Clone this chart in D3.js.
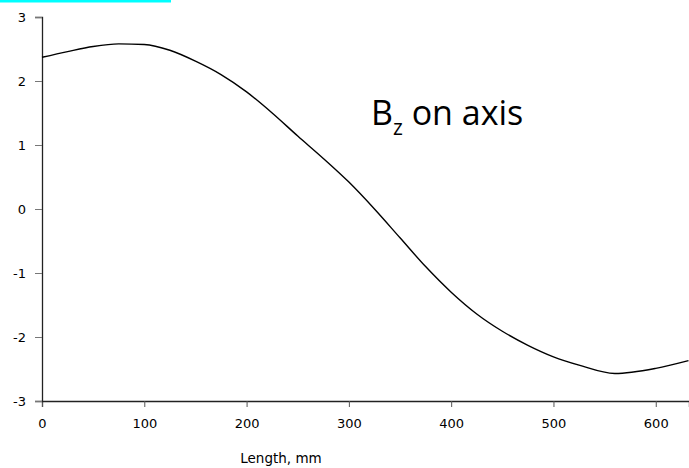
<!DOCTYPE html>
<html>
<head>
<meta charset="utf-8">
<script src="https://cdn.jsdelivr.net/npm/d3@7"></script>
<style>
  body { margin: 0; background: #fff; }
  svg { display: block; }
</style>
</head>
<body>
<div id="chart"></div>
<script>
// field along the axis
const lengthMm = [0, 25, 50, 75, 100, 125, 150, 175, 200, 225, 250, 275, 300, 325, 350, 375, 400, 425, 450, 475, 500, 525, 560, 600, 632];
const bz = [2.37, 2.46, 2.54, 2.58, 2.57, 2.48, 2.31, 2.1, 1.83, 1.5, 1.14, 0.79, 0.42, 0.0, -0.45, -0.9, -1.3, -1.64, -1.91, -2.13, -2.31, -2.44, -2.57, -2.49, -2.37];
const xTicks = [0, 100, 200, 300, 400, 500, 600];
const yTicks = [-3, -2, -1, 0, 1, 2, 3];

const width = 689, height = 468;
const margin = {left: 42, right: 0, top: 17, bottom: 67};

const svg = d3.select("#chart").append("svg")
    .attr("width", width)
    .attr("height", height);

const x = d3.scaleLinear()
    .domain([0, 632.5])
    .range([margin.left, width - margin.right]);

const y = d3.scaleLinear()
    .domain([-3, 3])
    .range([height - margin.bottom, margin.top]);

// cyan strip at the top left
svg.append("rect")
    .attr("x", 0)
    .attr("y", 0)
    .attr("width", 171)
    .attr("height", 2.5)
    .attr("fill", "#00ffff");

const fmt = d => String(d);

const xAxis = svg.append("g")
    .attr("transform", "translate(0," + y(-3) + ")")
    .call(d3.axisBottom(x).tickValues(xTicks).tickFormat(fmt).tickSize(6).tickPadding(12));

const yAxis = svg.append("g")
    .attr("transform", "translate(" + x(0) + ",0)")
    .call(d3.axisLeft(y).tickValues(yTicks).tickFormat(fmt).tickSize(7).tickPadding(9));

[xAxis, yAxis].forEach(g => {
    g.select(".domain").attr("stroke", "#222").attr("stroke-width", 1.3);
    g.selectAll(".tick line").attr("stroke", "#555");
    g.selectAll(".tick text")
        .attr("fill", "#000")
        .style("font-family", "DejaVu Sans, Verdana, sans-serif")
        .style("font-size", "13px");
});
yAxis.selectAll(".tick line").attr("stroke", "#777");

const line = d3.line()
    .x(d => x(d[0]))
    .y(d => y(d[1]))
    .curve(d3.curveMonotoneX);

svg.append("path")
    .datum(d3.zip(lengthMm, bz))
    .attr("d", line)
    .attr("fill", "none")
    .attr("stroke", "#000")
    .attr("stroke-width", 1.4);

svg.append("text")
    .attr("x", 281)
    .attr("y", 463)
    .attr("text-anchor", "middle")
    .style("font-family", "DejaVu Sans, Verdana, sans-serif")
    .style("font-size", "13.5px")
    .text("Length, mm");

// title inside the plot
const title = svg.append("text")
    .attr("x", 371)
    .attr("y", 125)
    .style("font-family", "Open Sans, Noto Sans, sans-serif")
    .style("font-size", "34px")
    .attr("fill", "#000");
title.append("tspan").text("B");
title.append("tspan").attr("dy", 10).style("font-size", "21px").text("z");
title.append("tspan").attr("dy", -10).text(" on axis");
</script>
</body>
</html>
